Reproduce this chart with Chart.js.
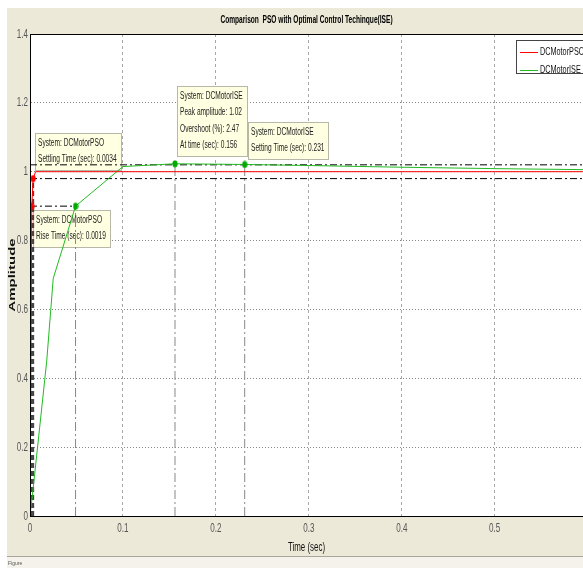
<!DOCTYPE html>
<html>
<head>
<meta charset="utf-8">
<script src="https://cdn.jsdelivr.net/npm/chart.js@4.4.1/dist/chart.umd.min.js"></script>
<style>
  html, body { margin: 0; padding: 0; background: #fff; }
  #wrap { width: 583px; height: 568px; }
</style>
</head>
<body>
<div id="wrap"><canvas id="step-chart" width="583" height="568"></canvas></div>
<script>
// axis ticks
const xTicks = [0, 0.1, 0.2, 0.3, 0.4, 0.5];
const yTicks = [0, 0.2, 0.4, 0.6, 0.8, 1, 1.2, 1.4];
const xMax = 0.595;

// step responses
const psoTime = [0, 0.0019, 0.0034, 0.006, 0.595];
const psoAmp = [0, 0.9, 0.98, 1.0, 1.0];
const iseTime = [0, 0.003, 0.018, 0.025, 0.049, 0.1, 0.156, 0.231, 0.3, 0.4, 0.5, 0.595];
const iseAmp = [0, 0.07, 0.45, 0.69, 0.9, 1.015, 1.023, 1.021, 1.018, 1.013, 1.009, 1.006];

// characteristic points (time, amplitude)
const psoRise = [0.0019, 0.9];
const psoSettle = [0.0034, 0.98];
const iseRise = [0.049, 0.9];
const isePeak = [0.156, 1.023];
const iseSettle = [0.231, 1.021];
const settleBand = [0.98, 1.02];

const seriesNames = ['DCMotorPSO', 'DCMotorISE'];
const seriesColors = ['#ff0000', '#22bb22'];

const chartTitle = 'Comparison  PSO with Optimal Control Techinque(ISE)';
const xTitle = 'Time (sec)';
const yTitle = 'Amplitude';

const tips = [
    { at: psoSettle, lines: ['System: DCMotorPSO', 'Settling Time (sec): 0.0034'], dx: 2, dy: -46 },
    { at: psoRise, lines: ['System: DCMotorPSO', 'Rise Time (sec): 0.0019'], dx: 1, dy: 4 },
    { at: isePeak, lines: ['System: DCMotorISE', 'Peak amplitude: 1.02', 'Overshoot (%): 2.47', 'At time (sec): 0.156'], dx: 2, dy: -78 },
    { at: iseSettle, lines: ['System: DCMotorISE', 'Setting Time (sec): 0.231'], dx: 3, dy: -42 }
];

// the original figure is squeezed sideways, so all text is drawn narrowed
const FONT = "'Liberation Sans', Arial, sans-serif";
const SQ = 0.66;

function narrowText(ctx, text, x, y, align, sx) {
    ctx.save();
    ctx.translate(x, y);
    ctx.scale(sx || SQ, 1);
    ctx.textAlign = align || 'left';
    ctx.fillText(text, 0, 0);
    ctx.restore();
}

function dotStyle(color) {
    const c = document.createElement('canvas');
    c.width = 6; c.height = 8;
    const g = c.getContext('2d');
    g.fillStyle = color;
    g.beginPath();
    g.ellipse(3, 4, 2.6, 3.6, 0, 0, Math.PI * 2);
    g.fill();
    return c;
}

const pts = (xs, ys) => xs.map((x, i) => ({ x: x, y: ys[i] }));
const seg = (a, b) => [{ x: a[0], y: a[1] }, { x: b[0], y: b[1] }];

function refLine(data, color, dash, width) {
    return {
        data: data, borderColor: color, borderWidth: width || 1, borderDash: dash,
        pointRadius: 0, fill: false, tension: 0
    };
}

const figurePlugin = {
    id: 'figure',
    beforeDraw(chart) {
        const ctx = chart.ctx;
        const a = chart.chartArea;
        ctx.save();
        ctx.fillStyle = '#fff';
        ctx.fillRect(0, 0, chart.width, chart.height);
        ctx.fillStyle = '#ece9d8';
        ctx.fillRect(7, 8, chart.width - 7, 548);
        ctx.fillStyle = '#f4f2ea';
        ctx.fillRect(7, 557, chart.width - 7, 11);
        ctx.fillStyle = '#a8a69c';
        ctx.fillRect(7, 556, chart.width - 7, 1);
        ctx.fillStyle = '#555';
        ctx.font = '5px ' + FONT;
        ctx.fillText('Figure', 8, 565);
        ctx.fillStyle = '#fff';
        ctx.fillRect(a.left, a.top, a.right - a.left, a.bottom - a.top);

        // titles and tick labels, placed with the chart's own scales
        const xs = chart.scales.x, ys = chart.scales.y;
        ctx.textBaseline = 'middle';
        ctx.fillStyle = '#000';
        ctx.font = 'bold 10px ' + FONT;
        narrowText(ctx, chartTitle, (a.left + a.right) / 2, 20, 'center');
        ctx.fillStyle = '#555';
        ctx.font = '13px ' + FONT;
        xTicks.forEach(v => narrowText(ctx, String(v), xs.getPixelForValue(v), a.bottom + 12, 'center', 0.62));
        yTicks.forEach(v => narrowText(ctx, String(v), a.left - 2, ys.getPixelForValue(v), 'right', 0.62));
        ctx.fillStyle = '#111';
        ctx.font = '12px ' + FONT;
        narrowText(ctx, xTitle, (a.left + a.right) / 2, 548, 'center');
        ctx.save();
        ctx.translate(12, (a.top + a.bottom) / 2);
        ctx.rotate(-Math.PI / 2);
        ctx.scale(1, SQ);
        ctx.font = 'bold 15px ' + FONT;
        ctx.textAlign = 'center';
        ctx.fillText(yTitle, 0, 0);
        ctx.restore();
        ctx.restore();
    },
    beforeDatasetsDraw(chart) {
        const ctx = chart.ctx;
        const xs = chart.scales.x, ys = chart.scales.y;
        ctx.save();
        ctx.font = '10px ' + FONT;
        ctx.textBaseline = 'middle';
        tips.forEach(t => {
            const px = Math.round(xs.getPixelForValue(t.at[0]) + t.dx);
            const py = Math.round(ys.getPixelForValue(t.at[1]) + t.dy);
            const w = Math.round(Math.max(...t.lines.map(l => ctx.measureText(l).width)) * SQ + 7);
            const h = Math.round(20 + (t.lines.length - 1) * 16.5);
            ctx.fillStyle = '#ffffe1';
            ctx.fillRect(px, py, w, h);
            ctx.strokeStyle = '#b8b8a8';
            ctx.lineWidth = 1;
            ctx.strokeRect(px + 0.5, py + 0.5, w, h);
            ctx.fillStyle = '#222';
            t.lines.forEach((l, i) => narrowText(ctx, l, px + 3, py + 10 + i * 16.5));
        });
        ctx.restore();
    },
    afterDraw(chart) {
        const ctx = chart.ctx;
        const a = chart.chartArea;
        ctx.save();
        ctx.strokeStyle = '#000';
        ctx.lineWidth = 1;
        ctx.strokeRect(Math.round(a.left) + 0.5, Math.round(a.top) + 0.5, a.right - a.left, Math.round(a.bottom - a.top));
        // legend box
        const lx = Math.round(a.right) - 67, ly = Math.round(a.top) + 6;
        ctx.fillStyle = '#fff';
        ctx.fillRect(lx, ly, 80, 33);
        ctx.strokeStyle = '#444';
        ctx.strokeRect(lx + 0.5, ly + 0.5, 80, 33);
        ctx.font = '11px ' + FONT;
        ctx.textBaseline = 'middle';
        seriesNames.forEach((name, i) => {
            const y = ly + 12 + i * 18;
            ctx.strokeStyle = seriesColors[i];
            ctx.beginPath();
            ctx.moveTo(lx + 4, y + 0.5);
            ctx.lineTo(lx + 22, y + 0.5);
            ctx.stroke();
            ctx.fillStyle = '#111';
            narrowText(ctx, name, lx + 24, y);
        });
        ctx.restore();
    }
};

const datasets = [
    { data: [psoRise, psoSettle].map(p => ({ x: p[0], y: p[1] })), showLine: false,
      pointStyle: dotStyle('#ff0000'), pointRadius: 4 },
    { data: [iseRise, isePeak, iseSettle].map(p => ({ x: p[0], y: p[1] })), showLine: false,
      pointStyle: dotStyle('#00aa00'), pointRadius: 4 },
    { data: pts(psoTime, psoAmp), borderColor: seriesColors[0], borderWidth: 1, pointRadius: 0, tension: 0 },
    { data: pts(iseTime, iseAmp), borderColor: seriesColors[1], borderWidth: 1, pointRadius: 0, tension: 0 },
    refLine(seg([0, settleBand[1]], [xMax, settleBand[1]]), '#000', [7, 3, 2, 3]),
    refLine(seg([0, settleBand[0]], [xMax, settleBand[0]]), '#000', [7, 3, 2, 3]),
    refLine(seg([0, iseRise[1]], iseRise), '#000', [7, 3, 2, 3]),
    refLine(seg([iseRise[0], 0], iseRise), '#888', [9, 3, 2, 3]),
    refLine(seg([isePeak[0], 0], isePeak), '#888', [9, 3, 2, 3]),
    refLine(seg([iseSettle[0], 0], iseSettle), '#888', [9, 3, 2, 3]),
    refLine(seg([psoRise[0], 0], psoRise), '#444', [5, 3], 2),
    refLine(seg([psoSettle[0], 0], psoSettle), '#444', [5, 3], 2)
];

const chart = new Chart(document.getElementById('step-chart').getContext('2d'), {
    type: 'line',
    data: { datasets: datasets },
    plugins: [figurePlugin],
    options: {
        responsive: false,
        animation: false,
        layout: { autoPadding: false, padding: { top: 34, left: 0, right: 0, bottom: 0 } },
        plugins: {
            legend: { display: false },
            tooltip: { enabled: false }
        },
        scales: {
            x: {
                type: 'linear',
                min: 0,
                max: xMax,
                afterFit(scale) { scale.height = 52; },
                afterBuildTicks(scale) { scale.ticks = xTicks.map(v => ({ value: v })); },
                ticks: { display: false },
                grid: { color: '#a8a8a8', drawTicks: false },
                border: { color: '#000', dash: [3, 3] }
            },
            y: {
                min: 0,
                max: 1.4,
                afterFit(scale) { scale.width = 30; },
                afterBuildTicks(scale) { scale.ticks = yTicks.map(v => ({ value: v })); },
                ticks: { display: false },
                grid: { color: '#888', drawTicks: false },
                border: { color: '#000', dash: [1, 2] }
            }
        }
    }
});
</script>
</body>
</html>
